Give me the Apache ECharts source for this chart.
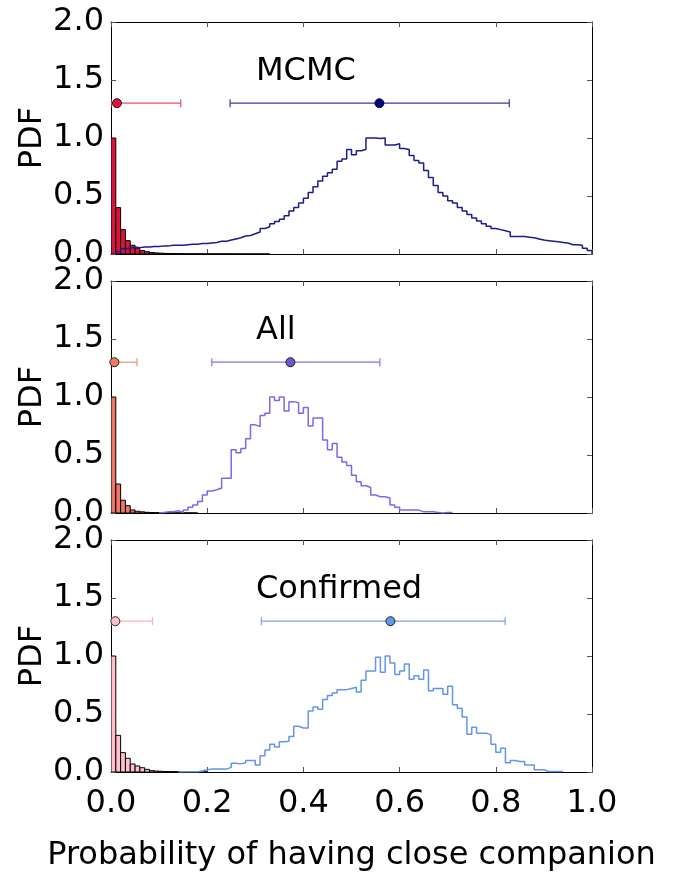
<!DOCTYPE html>
<html>
<head>
<meta charset="utf-8">
<script src="https://cdn.jsdelivr.net/npm/echarts@6/dist/echarts.min.js"></script>
<style>html,body{margin:0;padding:0;background:#fff}#c{width:678px;height:875px}</style>
</head>
<body>
<div id="c"></div>
<script>
// ---------- data ----------
const binWidth = 0.01;
const xTicks = [0.0, 0.2, 0.4, 0.6, 0.8, 1.0];
const yTicks = [0.0, 0.5, 1.0, 1.5, 2.0];
const panelNames = ['MCMC', 'All', 'Confirmed'];

// red (close companion) histograms, bins start at x = 0
const mcmcRed = [1.0,0.40,0.21,0.115,0.075,0.05,0.03,0.02,0.013,0.009,0.007,0.005,0.004,0.003,0.003,0.002,0.002,0.002,0.0015,0.0015,0.001,0.001,0.001,0.001,0.001,0.0008,0.0008,0.0006,0.0006,0.0005,0.0005,0.0004,0.0003];
const allRed = [1.0,0.25,0.11,0.063,0.026,0.015,0.01,0.006,0.004,0.003,0.002,0.002,0.0015,0.001,0.001,0.001,0.0008,0.0005];
const confRed = [1.0,0.316,0.167,0.118,0.069,0.052,0.037,0.023,0.012,0.008,0.006,0.004,0.003,0.003,0.002,0.002,0.0015,0.001,0.001,0.001];

// blue histograms (step outline), with the index of their first bin
const mcmcBlueStart = 1;
const mcmcBlue = [0.02,0.045,0.05,0.06,0.055,0.06,0.06,0.065,0.065,0.07,
  0.07,0.075,0.075,0.075,0.08,0.085,0.085,0.09,0.09,
  0.095,0.10,0.11,0.11,0.12,0.13,0.14,0.155,0.16,0.175,
  0.19,0.22,0.235,0.26,0.28,0.30,0.33,0.37,0.40,0.44,
  0.48,0.53,0.58,0.63,0.67,0.70,0.73,0.80,0.82,0.90,
  0.855,0.89,0.90,1.0,1.0,0.995,1.0,0.94,0.94,0.95,
  0.91,0.90,0.85,0.805,0.785,0.72,0.66,0.59,0.53,0.50,
  0.46,0.44,0.40,0.37,0.34,0.31,0.285,0.26,0.24,0.22,
  0.21,0.20,0.19,0.15,0.15,0.15,0.145,0.14,0.13,0.12,
  0.115,0.11,0.105,0.10,0.095,0.08,0.08,0.075,0.05,0.03];
const allBlueStart = 10;
const allBlue = [0.005,0.01,0.01,0.02,0.005,0.025,0.05,0.07,0.10,0.155,
  0.19,0.20,0.215,0.30,0.30,0.545,0.52,0.555,0.64,0.76,
  0.745,0.84,0.86,1.0,0.97,1.0,0.88,0.96,0.95,0.86,
  0.91,0.75,0.82,0.82,0.63,0.545,0.60,0.48,0.44,0.41,
  0.325,0.27,0.235,0.22,0.155,0.14,0.14,0.13,0.07,0.05,
  0.025,0.025,0.025,0.025,0.01,0.01,0.01,0.005,0.0,0.005,0.005];
const confBlueStart = 14;
const confBlue = [0.003,0.003,0.003,0.003,0.008,0.02,0.025,0.025,0.025,0.025,
  0.04,0.075,0.07,0.08,0.10,0.10,0.06,0.14,0.19,0.24,
  0.215,0.26,0.265,0.305,0.395,0.38,0.38,0.525,0.56,0.54,
  0.625,0.66,0.68,0.71,0.71,0.72,0.73,0.69,0.79,0.87,
  0.87,0.99,0.86,1.0,0.94,0.84,0.87,0.93,0.80,0.83,
  0.80,0.88,0.70,0.72,0.72,0.67,0.74,0.58,0.55,0.475,
  0.325,0.385,0.335,0.335,0.32,0.24,0.17,0.205,0.08,0.10,
  0.09,0.09,0.06,0.06,0.02,0.02,0.005,0.005,0.005,0.005];

// error bars: [centre, low, high] at height errY
const errY = 1.3;
const mcmcRedErr = [0.0125, 0.0, 0.145];
const mcmcBlueErr = [0.558, 0.2476, 0.828];
const allRedErr = [0.007, 0.0, 0.054];
const allBlueErr = [0.373, 0.2095, 0.559];
const confRedErr = [0.009, 0.0, 0.0865];
const confBlueErr = [0.581, 0.3126, 0.8195];

// ---------- styles ----------
const FONT = 'DejaVu Sans';
const FS = 32;
const panels = [
  {red: mcmcRed, blue: mcmcBlue, blueStart: mcmcBlueStart, rErr: mcmcRedErr, bErr: mcmcBlueErr,
   barFill: '#dc143c', rLine: '#e8506a', rDot: '#dc143c', bLine: '#1c1c8c', bErrLine: '#3a3a9c', bDot: '#000080'},
  {red: allRed, blue: allBlue, blueStart: allBlueStart, rErr: allRedErr, bErr: allBlueErr,
   barFill: '#ee7662', rLine: '#f4907e', rDot: '#f07a66', bLine: '#7b68ee', bErrLine: '#8273e6', bDot: '#6a5acd'},
  {red: confRed, blue: confBlue, blueStart: confBlueStart, rErr: confRedErr, bErr: confBlueErr,
   barFill: '#ffc0cb', rLine: '#ffb4c2', rDot: '#ffc0cb', bLine: '#6495ed', bErrLine: '#7aa3ef', bDot: '#6495ed'}
];
const gridTops = [22, 281, 540];
const gridH = 232;

const grid = [], xAxis = [], yAxis = [], series = [], title = [];
const tickStyle = {show: true, inside: true, length: 5, lineStyle: {color: '#555', width: 1}};
const lineStyle = {show: true, onZero: false, lineStyle: {color: '#000', width: 1}};

panels.forEach((p, k) => {
  grid.push({left: 111, right: 86, top: gridTops[k], height: gridH});
  // bottom & top x axes
  xAxis.push({type: 'value', gridIndex: k, min: 0, max: 1, interval: 0.2, position: 'bottom',
    axisLine: lineStyle, axisTick: tickStyle, splitLine: {show: false},
    axisLabel: {show: k === 2, margin: 16, color: '#000', fontFamily: FONT, fontSize: FS,
      formatter: v => v.toFixed(1)},
    name: k === 2 ? 'Probability of having close companion' : '',
    nameLocation: 'middle', nameGap: 68, nameMoveOverlap: false,
    nameTextStyle: {color: '#000', fontFamily: FONT, fontSize: FS}});
  xAxis.push({type: 'value', gridIndex: k, min: 0, max: 1, interval: 0.2, position: 'top',
    axisLine: lineStyle, axisTick: tickStyle, axisLabel: {show: false}, splitLine: {show: false}});
  yAxis.push({type: 'value', gridIndex: k, min: 0, max: 2, interval: 0.5, position: 'left',
    axisLine: lineStyle, axisTick: tickStyle, splitLine: {show: false},
    axisLabel: {margin: 7, color: '#000', fontFamily: FONT, fontSize: FS, formatter: v => v.toFixed(1)},
    name: 'PDF', nameLocation: 'middle', nameGap: 62, nameRotate: 90, nameMoveOverlap: false,
    nameTextStyle: {color: '#000', fontFamily: FONT, fontSize: FS}});
  yAxis.push({type: 'value', gridIndex: k, min: 0, max: 2, interval: 0.5, position: 'right',
    axisLine: lineStyle, axisTick: tickStyle, axisLabel: {show: false}, splitLine: {show: false}});

  const xi = 2 * k, yi = 2 * k;

  // red bars
  const redData = p.red.map((v, i) => [i * binWidth, (i + 1) * binWidth, v]);
  series.push({type: 'custom', xAxisIndex: xi, yAxisIndex: yi, z: 2, clip: true,
    data: redData, encode: {x: [0, 1], y: 2},
    renderItem: (params, api) => {
      const a = api.coord([api.value(0), api.value(2)]);
      const b = api.coord([api.value(1), 0]);
      return {type: 'rect', shape: {x: a[0], y: a[1], width: b[0] - a[0], height: b[1] - a[1]},
        style: {fill: p.barFill, stroke: '#000', lineWidth: 1}};
    }});

  // blue step histogram
  const stepData = [[p.blueStart * binWidth, 0]];
  p.blue.forEach((v, i) => stepData.push([(p.blueStart + i) * binWidth, v]));
  const endX = (p.blueStart + p.blue.length) * binWidth;
  stepData.push([endX, p.blue[p.blue.length - 1]]);
  stepData.push([endX, 0]);
  series.push({type: 'line', xAxisIndex: xi, yAxisIndex: yi, z: 3, step: 'end', symbol: 'none',
    data: stepData, lineStyle: {color: p.bLine, width: 1.5}, animation: false});

  // error bars
  [[p.rErr, p.rLine, p.rDot], [p.bErr, p.bErrLine, p.bDot]].forEach(([e, lc, dc]) => {
    series.push({type: 'custom', xAxisIndex: xi, yAxisIndex: yi, z: 4, clip: true,
      data: [[e[1], e[2], errY]], encode: {x: [0, 1], y: 2},
      renderItem: (params, api) => {
        const a = api.coord([api.value(0), api.value(2)]);
        const b = api.coord([api.value(1), api.value(2)]);
        const s = {stroke: lc, lineWidth: 1.2};
        return {type: 'group', children: [
          {type: 'line', shape: {x1: a[0], y1: a[1], x2: b[0], y2: b[1]}, style: s},
          {type: 'line', shape: {x1: a[0], y1: a[1] - 4, x2: a[0], y2: a[1] + 4}, style: s},
          {type: 'line', shape: {x1: b[0], y1: b[1] - 4, x2: b[0], y2: b[1] + 4}, style: s}
        ]};
      }});
    series.push({type: 'scatter', xAxisIndex: xi, yAxisIndex: yi, z: 5, symbol: 'circle', symbolSize: 9,
      data: [[e[0], errY]], itemStyle: {color: dc, borderColor: '#000', borderWidth: 0.8, opacity: 1}});
  });

  title.push({text: panelNames[k], left: 256, top: gridTops[k] + 34, padding: 0,
    textStyle: {color: '#000', fontFamily: FONT, fontSize: FS, fontWeight: 'normal'}});
});

const chart = echarts.init(document.getElementById('c'), null, {renderer: 'canvas'});
chart.setOption({animation: false, backgroundColor: '#fff', title, grid, xAxis, yAxis, series});
</script>
</body>
</html>
